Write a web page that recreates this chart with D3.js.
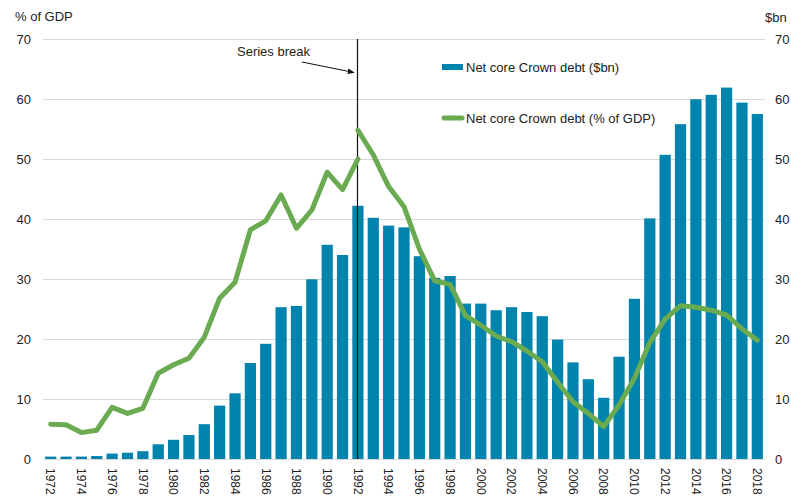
<!DOCTYPE html>
<html><head><meta charset="utf-8">
<script src="https://cdn.jsdelivr.net/npm/d3@7"></script>
<style>body{margin:0;background:#fff}svg{display:block;font-family:"Liberation Sans",Arial,sans-serif}</style>
</head><body><svg id="c" width="791" height="501"></svg>
<script>
const years = d3.range(1972, 2019);
const debtBn = [0.4,0.4,0.4,0.5,0.9,1.05,1.3,2.45,3.2,4.0,5.8,8.9,10.95,16.0,19.2,25.3,25.5,29.95,35.7,34.0,
  42.2,40.2,38.9,38.6,33.8,30.2,30.5,25.9,25.9,24.8,25.3,24.5,23.8,19.9,16.1,13.3,10.2,17.05,26.7,40.1,
  50.7,55.8,59.95,60.7,61.9,59.4,57.5];
// % of GDP, old series 1972-1992
const gdpOldYears = d3.range(1972, 1993);
const gdpOld = [5.8,5.7,4.4,4.8,8.6,7.6,8.45,14.3,15.7,16.8,20.3,26.8,29.45,38.2,39.7,44.0,38.45,41.5,47.8,44.9,50.0];
// % of GDP, new series 1992-2018
const gdpNewYears = d3.range(1992, 2019);
const gdpNew = [54.8,50.7,45.4,42.05,35.0,29.7,29.1,23.9,22.3,20.5,19.55,18.0,16.2,12.8,9.55,7.6,5.4,9.0,13.45,19.4,
  23.3,25.55,25.3,24.8,24.0,21.7,19.8];
const yTicks = [0,10,20,30,40,50,60,70];
const xTickYears = years.filter(y => (y - 1972) % 2 === 0);
const breakYear = 1992;
const labels = {left:"% of GDP", right:"$bn", bar:"Net core Crown debt ($bn)", line:"Net core Crown debt (% of GDP)", brk:"Series break"};

const barColor = "#0083AC", lineColor = "#6AAA50", gridColor = "#d9d9d9", textColor = "#222";
const svg = d3.select("#c");
const L = 43, R = 765, T = 39, B = 459;
const x = d3.scaleBand().domain(years).range([L, R]).paddingInner(0.27).paddingOuter(0.135);
const y = d3.scaleLinear().domain([0, 70]).range([B, T]);
const cx = yr => x(yr) + x.bandwidth() / 2;

// gridlines
svg.append("g").selectAll("line").data(yTicks).join("line")
  .attr("x1", L).attr("x2", R).attr("y1", d => y(d) + 0.5).attr("y2", d => y(d) + 0.5)
  .attr("stroke", gridColor).attr("stroke-width", 1);

// left axis
const la = svg.append("g").attr("transform", `translate(${L},0)`)
  .call(d3.axisLeft(y).tickValues(yTicks).tickSize(0).tickPadding(12));
la.select(".domain").remove();
la.selectAll("text").attr("font-size", 13).attr("fill", textColor).attr("font-family", "Liberation Sans, Arial, sans-serif");
// right axis
const ra = svg.append("g").attr("transform", `translate(${R},0)`)
  .call(d3.axisRight(y).tickValues(yTicks).tickSize(0).tickPadding(10));
ra.select(".domain").remove();
ra.selectAll("text").attr("font-size", 13).attr("fill", textColor).attr("font-family", "Liberation Sans, Arial, sans-serif");

svg.append("text").attr("x", 15).attr("y", 21).attr("font-size", 13).attr("fill", textColor).text(labels.left);
svg.append("text").attr("x", 765).attr("y", 22).attr("font-size", 13).attr("fill", textColor).text(labels.right);

// bars
svg.append("g").selectAll("rect").data(years).join("rect")
  .attr("x", d => x(d)).attr("width", x.bandwidth())
  .attr("y", (d, i) => y(debtBn[i])).attr("height", (d, i) => y(0) - y(debtBn[i]))
  .attr("fill", barColor);

// x axis labels
const xa = svg.append("g").attr("transform", `translate(0,${B})`)
  .call(d3.axisBottom(x).tickValues(xTickYears).tickSize(0).tickPadding(0));
xa.select(".domain").remove();
xa.selectAll("text").attr("font-size", 12).attr("fill", textColor)
  .attr("font-family", "Liberation Sans, Arial, sans-serif")
  .attr("transform", "rotate(90)").attr("text-anchor", "start")
  .attr("x", 9).attr("y", 0).attr("dy", "0.35em");

// series break
const bx = Math.round(cx(breakYear)) - 0.5;
svg.append("line").attr("x1", bx).attr("x2", bx).attr("y1", T).attr("y2", B)
  .attr("stroke", "#111").attr("stroke-width", 1.2);
svg.append("defs").append("marker").attr("id", "ah").attr("viewBox", "0 0 10 10")
  .attr("refX", 9).attr("refY", 5).attr("markerWidth", 7).attr("markerHeight", 7).attr("orient", "auto")
  .append("path").attr("d", "M0,1 L10,5 L0,9 Z").attr("fill", "#111");
svg.append("line").attr("x1", 302).attr("y1", 62).attr("x2", 354).attr("y2", 72.5)
  .attr("stroke", "#111").attr("stroke-width", 1).attr("marker-end", "url(#ah)");
svg.append("text").attr("x", 237).attr("y", 56).attr("font-size", 13).attr("fill", textColor).text(labels.brk);

// lines
const lineGen = d3.line().x(d => cx(d[0])).y(d => y(d[1]));
const drawLine = (yrs, vals) => svg.append("path")
  .datum(yrs.map((yr, i) => [yr, vals[i]]))
  .attr("d", lineGen).attr("fill", "none").attr("stroke", lineColor)
  .attr("stroke-width", 5).attr("stroke-linejoin", "round").attr("stroke-linecap", "round");
drawLine(gdpOldYears, gdpOld);
drawLine(gdpNewYears, gdpNew);

// legend
const lg = svg.append("g");
lg.append("rect").attr("x", 442).attr("y", 64).attr("width", 21).attr("height", 6).attr("fill", barColor);
lg.append("text").attr("x", 466).attr("y", 67).attr("dy", "0.35em").attr("font-size", 13).attr("fill", textColor).text(labels.bar);
lg.append("line").attr("x1", 444).attr("x2", 462).attr("y1", 118).attr("y2", 118)
  .attr("stroke", lineColor).attr("stroke-width", 5).attr("stroke-linecap", "round");
lg.append("text").attr("x", 466).attr("y", 118).attr("dy", "0.35em").attr("font-size", 13).attr("fill", textColor).text(labels.line);
</script></body></html>
